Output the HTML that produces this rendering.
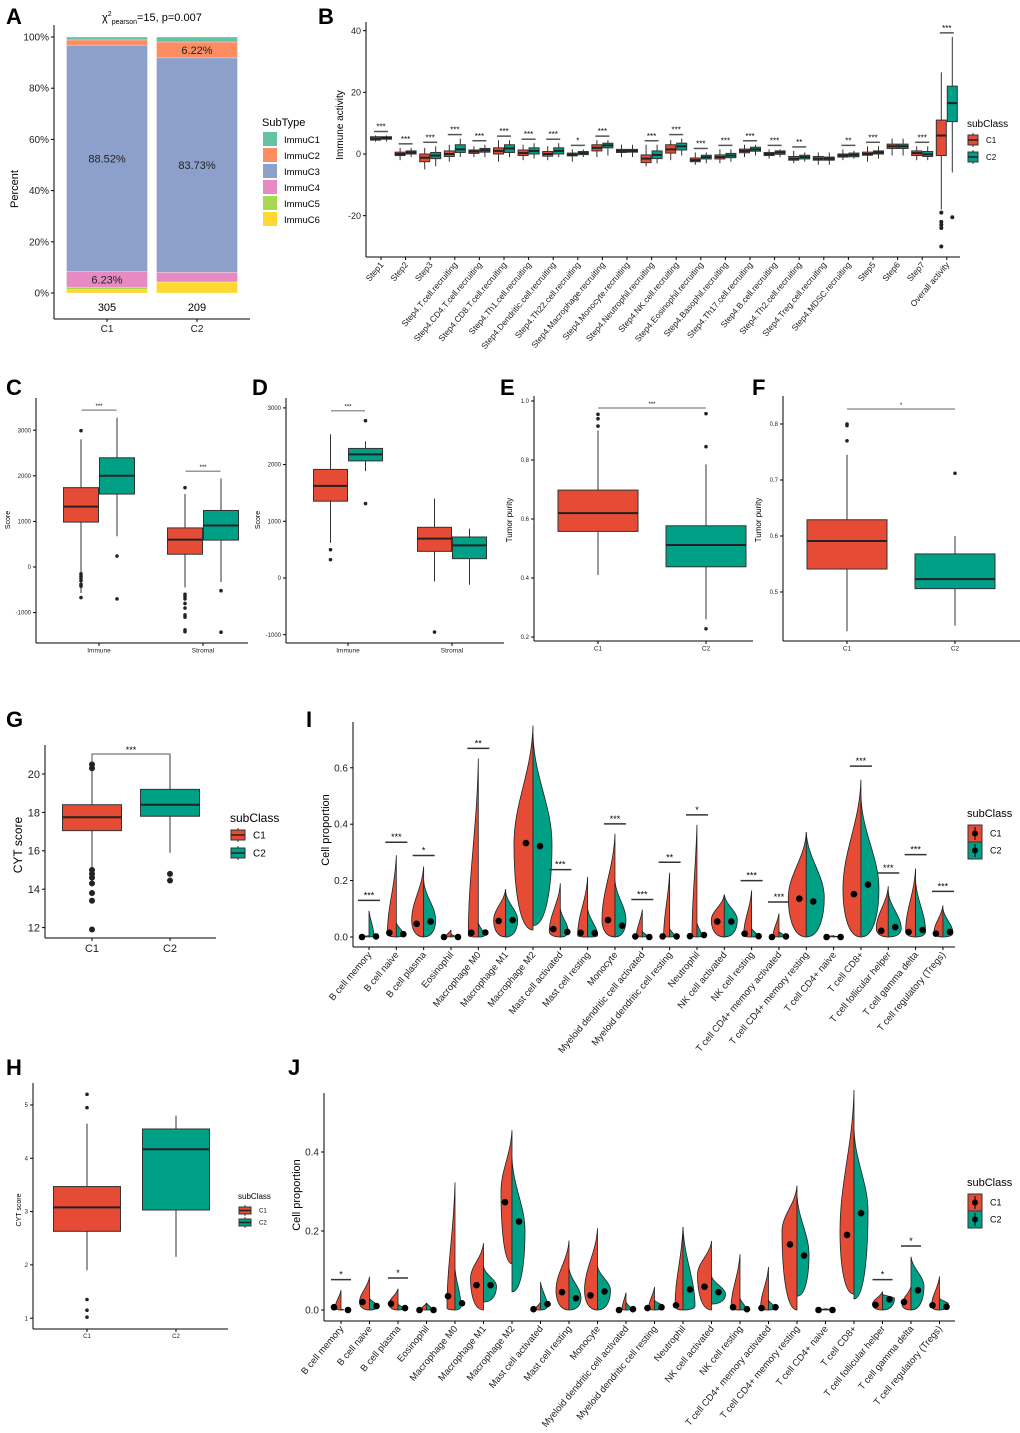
<!DOCTYPE html>
<html><head><meta charset="utf-8">
<style>
html,body{margin:0;padding:0;background:#fff;}
svg{display:block;font-family:"Liberation Sans",Arial,sans-serif;}
.pl{font-weight:bold;font-size:22px;}
</style></head>
<body>
<svg id="fig" width="1020" height="1433" viewBox="0 0 1020 1433" xmlns="http://www.w3.org/2000/svg">
<text class="pl" x="6" y="24">A</text>
<text class="pl" x="318" y="24">B</text>
<text class="pl" x="6" y="395">C</text>
<text class="pl" x="252" y="395">D</text>
<text class="pl" x="500" y="395">E</text>
<text class="pl" x="752" y="395">F</text>
<text class="pl" x="6" y="727">G</text>
<text class="pl" x="306" y="727">I</text>
<text class="pl" x="6" y="1075">H</text>
<text class="pl" x="288" y="1075">J</text>
</svg>
<script>
// ===== Panel A data =====
const aGroups=["C1","C2"];
const aTypes=["ImmuC6","ImmuC5","ImmuC4","ImmuC3","ImmuC2","ImmuC1"];
const aC1=[1.3,0.8,6.23,88.52,2.0,1.15];
const aC2=[4.3,0.0,3.8,83.73,6.22,1.95];
const aCounts=["305","209"];
const aTicks=[0,20,40,60,80,100];
// ===== Panel B data =====
const bCats=["Step1","Step2","Step3","Step4.T.cell.recruiting","Step4.CD4.T.cell.recruiting","Step4.CD8.T.cell.recruiting","Step4.Th1.cell.recruiting","Step4.Dendritic.cell.recruiting","Step4.Th22.cell.recruiting","Step4.Macrophage.recruiting","Step4.Monocyte.recruiting","Step4.Neutrophil.recruiting","Step4.NK.cell.recruiting","Step4.Eosinophil.recruiting","Step4.Basophil.recruiting","Step4.Th17.cell.recruiting","Step4.B.cell.recruiting","Step4.Th2.cell.recruiting","Step4.Treg.cell.recruiting","Step4.MDSC.recruiting","Step5","Step6","Step7","Overall activity"];
const bC1Med=[5,0,-1.2,0,0.8,1,0.3,0,-0.2,2,1,-1.5,1.5,-2,-1,1,0,-1.5,-1.5,-0.5,0,2.5,0.3,6];
const bC1Q1=[4.5,-0.5,-2.5,-0.8,0.2,0,-0.5,-0.7,-0.6,1,0.5,-2.8,0.3,-2.5,-1.6,0.4,-0.5,-2,-2,-1,-0.4,1.8,-0.5,-0.5];
const bC1Q3=[5.6,0.6,0,1,1.3,2,1.3,0.8,0.3,3,1.5,-0.3,3,-1.3,-0.3,1.6,0.5,-0.8,-0.8,0,0.6,3.2,1,11];
const bC1Lo=[4,-2,-5,-2.5,-1,-2.5,-2,-2,-2.5,-1,-1,-4,-2,-3.5,-3,-1,-1.5,-3,-3.5,-2,-2.5,-0.5,-2,-18];
const bC1Hi=[6,2,2,3,2.5,4.5,3,2.5,1.5,4.5,3,3,4.5,0.5,1.5,3,1.5,1,0.5,1.5,2.5,5,2.5,26.5];
const bC2Med=[5.2,0.5,-0.5,1.5,1.2,1.8,1,1,0.3,2.8,1,-0.3,2.5,-1,-0.5,1.5,0.5,-1,-1.5,-0.3,0.5,2.5,-0.1,16.5];
const bC2Q1=[4.8,0,-1.5,0.5,0.6,0.5,0,0,-0.2,2,0.6,-1.5,1.3,-1.6,-1.2,0.9,-0.1,-1.6,-2,-0.9,0,1.8,-0.8,10.5];
const bC2Q3=[5.6,1,0.5,3,1.8,3,2,2,0.8,3.5,1.5,1,3.5,-0.4,0.2,2.2,1,-0.4,-1,0.3,1,3.2,0.8,22];
const bC2Lo=[4,-1,-4,-1,-1,-1,-1.5,-1,-1,-0.5,-1,-3,-0.5,-3,-2.5,-0.5,-1,-2.5,-3.5,-1.5,-1.5,-0.5,-2,-6];
const bC2Hi=[6,2,2.5,5,3,4.5,3.5,3.5,1.5,4.5,3,3,5,0.5,1.5,3,1.5,0.5,0.5,1,2.5,5,2.5,38];
const bSig=["***","***","***","***","***","***","***","***","*","***","","***","***","***","***","***","***","**","","**","***","","***","***"];
const bTicks=[-20,0,20,40];
const bOut1=[-19,-22,-23,-24,-30];
const bOut2=[-20.5];
// ===== Panel C / D data =====
const cdCats=["Immune","Stromal"];
const cC1=[[-570,985,1325,1740,2800],[-450,280,600,857,1600]];
const cC2=[[675,1600,2000,2395,3275],[-330,590,910,1240,1940]];
const cOut1=[[2990,-150,-200,-250,-300,-380,-420,-670],[1740,-600,-650,-700,-800,-900,-1050,-1100,-1380,-1420]];
const cOut2=[[240,-700],[-520,-1430]];
const cTicks=[-1000,0,1000,2000,3000];
const dC1=[[620,1355,1625,1915,2535],[-60,470,694,894,1400]];
const dC2=[[1885,2065,2180,2285,2410],[-118,341,576,723,870]];
const dOut1=[[500,324],[-953]];
const dOut2=[[2775,1312],[]];
const dTicks=[-1000,0,1000,2000,3000];
// ===== Panel E / F data =====
const efCats=["C1","C2"];
const eStats=[[0.41,0.558,0.620,0.698,0.90],[0.26,0.438,0.512,0.577,0.785]];
const eOut=[[0.955,0.94,0.915],[0.957,0.845,0.228]];
const eTicks=[0.2,0.4,0.6,0.8,1.0];
const fStats=[[0.43,0.541,0.591,0.629,0.745],[0.44,0.506,0.523,0.568,0.600]];
const fOut=[[0.80,0.797,0.77],[0.712]];
const fTicks=[0.5,0.6,0.7,0.8];
// ===== Panel G / H data =====
const gStats=[[15.1,17.05,17.75,18.4,20.4],[15.9,17.8,18.4,19.2,21.0]];
const gOut=[[20.5,20.3,15,14.8,14.6,14.3,13.8,13.4,11.9],[14.8,14.45]];
const gTicks=[12,14,16,18,20];
const hStats=[[1.9,2.63,3.08,3.47,4.65],[2.15,3.03,4.17,4.55,4.8]];
const hOut=[[5.2,4.95,1.35,1.15,1.02],[]];
const hTicks=[1,2,3,4,5];
// ===== Panel I / J data =====
const vCats=["B cell memory","B cell naive","B cell plasma","Eosinophil","Macrophage M0","Macrophage M1","Macrophage M2","Mast cell activated","Mast cell resting","Monocyte","Myeloid dendritic cell activated","Myeloid dendritic cell resting","Neutrophil","NK cell activated","NK cell resting","T cell CD4+ memory activated","T cell CD4+ memory resting","T cell CD4+ naive","T cell CD8+","T cell follicular helper","T cell gamma delta","T cell regulatory (Tregs)"];
const iTop1=[0.005,0.29,0.25,0.025,0.633,0.17,0.75,0.19,0.213,0.366,0.097,0.228,0.398,0.15,0.165,0.083,0.372,0.005,0.558,0.18,0.243,0.112];
const iTop2=[0.093,0.05,0.2,0.01,0.05,0.16,0.72,0.1,0.1,0.2,0.02,0.03,0.05,0.15,0.03,0.02,0.372,0.003,0.5,0.16,0.2,0.1];
const iBot1=[0,0,0,0,0,0,0.025,0,0,0,0,0,0,0,0,0,0,0,0,0,0,0];
const iBot2=[0,0,0,0,0,0,0.04,0,0,0,0,0,0,0,0,0,0,0,0,0,0,0];
const iMode=[0.002,0.01,0.06,0.002,0.005,0.06,0.33,0.02,0.005,0.06,0.002,0.002,0.002,0.06,0.005,0.002,0.14,0.002,0.17,0.03,0.02,0.015];
const iWid1=[6,9,12,5,10,12,19,11,10,13,6,6,5,13,8,6,18,6,18,12,10,9];
const iWid2=[5,7,12,4,6,12,19,8,10,11,5,5,5,13,6,6,18,5,18,13,10,10];
const iMean1=[0,0.015,0.047,0,0.015,0.057,0.333,0.028,0.015,0.06,0.002,0.002,0.003,0.055,0.012,0,0.136,0,0.152,0.022,0.018,0.012];
const iMean2=[0.002,0.01,0.055,0,0.016,0.06,0.322,0.018,0.014,0.04,0,0.002,0.007,0.055,0.003,0.002,0.126,0,0.186,0.035,0.025,0.018];
const iSig=[["***",0.13],["***",0.336],["*",0.289],null,["**",0.669],null,null,["***",0.239],null,["***",0.401],["***",0.133],["**",0.265],["*",0.433],null,["***",0.2],["***",0.124],null,null,["***",0.606],["***",0.227],["***",0.292],["***",0.162]];
const iTicks=[0,0.2,0.4,0.6];
const jTop1=[0.05,0.084,0.054,0.018,0.323,0.169,0.455,0.02,0.176,0.207,0.044,0.058,0.21,0.175,0.141,0.109,0.315,0.003,0.557,0.047,0.06,0.085];
const jTop2=[0.002,0.03,0.015,0.018,0.105,0.11,0.385,0.071,0.107,0.112,0.02,0.025,0.21,0.087,0.03,0.025,0.29,0.003,0.457,0.04,0.135,0.03];
const jBot1=[0,0,0,0,0,0,0.117,0,0,0,0,0,0,0,0,0,0,0,0.04,0,0,0];
const jBot2=[0,0,0,0,0,0.02,0.046,0,0,0,0,0,0,0.015,0,0,0.035,0,0.028,0,0,0];
const jMode1=[0.005,0.02,0.015,0.002,0.005,0.08,0.3,0.002,0.05,0.05,0.002,0.004,0.01,0.09,0.005,0.004,0.2,0.001,0.2,0.015,0.015,0.01];
const jMode2=[0.001,0.01,0.004,0.003,0.01,0.06,0.2,0.01,0.03,0.05,0.002,0.01,0.01,0.04,0.002,0.005,0.14,0.001,0.25,0.03,0.06,0.015];
const jWid1=[6,10,9,5,8,13,11,5,13,13,4,6,8,14,9,8,15,5,14,10,9,8];
const jWid2=[3,8,6,5,6,13,13,7,12,13,5,8,12,14,6,7,12,5,14,12,13,9];
const jMean1=[0.007,0.02,0.016,0,0.035,0.063,0.273,0.002,0.045,0.037,0,0.005,0.012,0.059,0.007,0.005,0.166,0,0.19,0.013,0.02,0.012];
const jMean2=[0,0.01,0.005,0,0.017,0.063,0.224,0.015,0.03,0.047,0.002,0.007,0.052,0.045,0.002,0.007,0.138,0,0.245,0.027,0.05,0.008];
const jSig=[["*",0.077],null,["*",0.081],null,null,null,null,null,null,null,null,null,null,null,null,null,null,null,null,["*",0.077],["*",0.162],null];
const jTicks=[0,0.2,0.4];

const RED="#E64B35",TEAL="#00A087",AX="#000";
const svg=document.getElementById('fig');
const NS="http://www.w3.org/2000/svg";
function mk(tag,attrs,parent){const e=document.createElementNS(NS,tag);for(const k in attrs)e.setAttribute(k,attrs[k]);(parent||svg).appendChild(e);return e;}
function txt(s,attrs,parent){const e=mk('text',attrs,parent);e.textContent=s;return e;}
function group(name){const g=mk('g',{});return g;}

function axes(g,x0,x1,yTop,yBot,ticks,ys,fs,fmt){
  const a=mk('line',{x1:x0,y1:yTop,x2:x0,y2:yBot,stroke:AX,'stroke-width':1},g);
  
  const b=mk('line',{x1:x0,y1:yBot,x2:x1,y2:yBot,stroke:AX,'stroke-width':1},g);
  
  ticks.forEach(t=>{const y=ys(t);
    mk('line',{x1:x0-3,y1:y,x2:x0,y2:y,stroke:AX},g);
    const l=txt(fmt?fmt(t):String(t),{x:x0-5,y:y+fs*0.35,'font-size':fs,'text-anchor':'end',fill:'#222'},g);
    });
}
function xlab(g,x,y,s,fs){mk('line',{x1:x,y1:y,x2:x,y2:y+3,stroke:AX},g);
  const l=txt(s,{x:x,y:y+3+fs,'font-size':fs,'text-anchor':'middle',fill:'#222'},g);
  }
function rlab(g,x,y,s,fs,ang){mk('line',{x1:x,y1:y,x2:x,y2:y+3,stroke:AX},g);
  const l=txt(s,{x:x+3,y:y+8,'font-size':fs,'text-anchor':'end',fill:'#222',transform:`rotate(${ang} ${x+3} ${y+8})`},g);
  }
function ytitle(g,x,y,s,fs){const l=txt(s,{x:x,y:y,'font-size':fs,'text-anchor':'middle',transform:`rotate(-90 ${x} ${y})`},g);
  }
function box(g,cx,w,ys,st,fill,outs,r,name){
  const bg=mk('g',{},g);
  const [lo,q1,md,q3,hi]=st;
  mk('line',{x1:cx,y1:ys(hi),x2:cx,y2:ys(q3),stroke:'#333','stroke-width':1},bg);
  mk('line',{x1:cx,y1:ys(q1),x2:cx,y2:ys(lo),stroke:'#333','stroke-width':1},bg);
  mk('rect',{x:cx-w/2,y:ys(q3),width:w,height:Math.max(1,ys(q1)-ys(q3)),fill:fill,stroke:'#333','stroke-width':1},bg);
  mk('line',{x1:cx-w/2,y1:ys(md),x2:cx+w/2,y2:ys(md),stroke:'#222','stroke-width':2},bg);
  (outs||[]).forEach(o=>mk('circle',{cx:cx,cy:ys(o),r:r,fill:'#222'},bg));
}
function sig(g,x1,x2,y,s,fs,col){
  const sg=mk('g',{},g);
  mk('line',{x1:x1,y1:y,x2:x2,y2:y,stroke:col||'#888','stroke-width':1.5},sg);
  txt(s,{x:(x1+x2)/2,y:y-2,'font-size':fs,'text-anchor':'middle'},sg);
}
function legend(g,x,y,fs,kw,kh,gap,kind){
  const lg=mk('g',{},g);
  txt('subClass',{x:x,y:y,'font-size':fs+2},lg);
  [['C1',RED],['C2',TEAL]].forEach((c,i)=>{const yy=y+8+i*gap;
    const e=mk('g',{},lg);
    mk('rect',{x:x+1,y:yy,width:kw,height:kh,fill:c[1],stroke:'#333'},e);
    if(kind==='violin'){mk('line',{x1:x+1+kw/2,y1:yy+2,x2:x+1+kw/2,y2:yy+kh-2,stroke:'#000'},e);mk('circle',{cx:x+1+kw/2,cy:yy+kh/2,r:3,fill:'#000'},e);}
    else{mk('line',{x1:x+1,y1:yy+kh/2,x2:x+1+kw,y2:yy+kh/2,stroke:'#222','stroke-width':1.5},e);
      mk('line',{x1:x+1+kw/2,y1:yy-2,x2:x+1+kw/2,y2:yy,stroke:'#333'},e);mk('line',{x1:x+1+kw/2,y1:yy+kh,x2:x+1+kw/2,y2:yy+kh+2,stroke:'#333'},e);}
    txt(c[0],{x:x+kw+9,y:yy+kh/2+fs*0.35,'font-size':fs},e);});
}

// ---------- Panel A ----------
(function(){
  const g=group('panel-a-stacked-bar');
  const ys=v=>293-v*2.56;
  const cols={ImmuC1:"#66C2A5",ImmuC2:"#FC8D62",ImmuC3:"#8DA0CB",ImmuC4:"#E78AC3",ImmuC5:"#A6D854",ImmuC6:"#FFD92F"};
  const xs=[107,197];
  [aC1,aC2].forEach((vals,gi)=>{let cum=0;
    vals.forEach((v,k)=>{const r=mk('rect',{x:xs[gi]-40.5,y:ys(cum+v),width:81,height:v*2.56,fill:cols[aTypes[k]],stroke:'#fff','stroke-width':0.3},g);
      
      
      if((aTypes[k]==="ImmuC3")||(aTypes[k]==="ImmuC4"&&gi===0)||(aTypes[k]==="ImmuC2"&&gi===1)){
        const t=txt(v.toFixed(2)+'%',{x:xs[gi],y:ys(cum+v/2)+4,'font-size':11,'text-anchor':'middle',fill:'#222'},g);
        }
      cum+=v;});
    const c=txt(aCounts[gi],{x:xs[gi],y:311,'font-size':11,'text-anchor':'middle'},g);
    
  });
  axes(g,54,250,25,319,aTicks,ys,10,t=>t+'%');
  xs.forEach((x,i)=>xlab(g,x,319,aGroups[i],10));
  ytitle(g,18,189,'Percent',11);
  const tt=mk('text',{x:102,y:21,'font-size':11},g);
  tt.innerHTML='χ<tspan dy="-5" font-size="7">2</tspan><tspan dy="8" font-size="7">pearson</tspan><tspan dy="-3">=15, p=0.007</tspan>';
  const lg=mk('g',{},g);
  txt('SubType',{x:262,y:126,'font-size':11},lg);
  ["ImmuC1","ImmuC2","ImmuC3","ImmuC4","ImmuC5","ImmuC6"].forEach((n,i)=>{const e=mk('g',{},lg);
    
    mk('rect',{x:263,y:132+i*16,width:14,height:14,fill:cols[n]},e);
    txt(n,{x:284,y:143+i*16,'font-size':9.5},e);});
})();

// ---------- Panel B ----------
(function(){
  const g=group('panel-b-immune-activity-boxplot');
  const ys=v=>154-v*3.083;const xs=i=>381+i*24.6;
  bCats.forEach((c,i)=>{
    const o1=i===23?bOut1:[],o2=i===23?bOut2:[];
    box(g,xs(i)-5.5,10,ys,[bC1Lo[i],bC1Q1[i],bC1Med[i],bC1Q3[i],bC1Hi[i]],RED,o1,2,'box-c1-'+i);
    box(g,xs(i)+5.5,10,ys,[bC2Lo[i],bC2Q1[i],bC2Med[i],bC2Q3[i],bC2Hi[i]],TEAL,o2,2,'box-c2-'+i);
    if(bSig[i]){const top=Math.max(bC1Hi[i],bC2Hi[i]);sig(g,xs(i)-7,xs(i)+7,ys(top)-4,bSig[i],8,'#555');}
    rlab(g,xs(i),257,c,8.5,-50);
  });
  axes(g,366,960,22,257,bTicks,ys,9);
  ytitle(g,343,125,'Immune activity',10);
  legend(g,967,127,8,10,10,17,'box');
})();

// ---------- Panels C & D ----------
function scorePanel(name,ax,right,ys,cats,xs,w,s1,s2,o1,o2,ticks,sigs){
  const g=group(name);
  cats.forEach((c,i)=>{box(g,xs[i]-w/2-0.5,w,ys,s1[i],RED,o1[i],1.8,'box-'+c.toLowerCase()+'-c1');
    box(g,xs[i]+w/2+0.5,w,ys,s2[i],TEAL,o2[i],1.8,'box-'+c.toLowerCase()+'-c2');
    if(sigs[i])sig(g,xs[i]-w/2,xs[i]+w/2,ys(sigs[i][1]),sigs[i][0],6,'#999');
    xlab(g,xs[i],643,c,6.5);});
  axes(g,ax,right,398,643,ticks,ys,6);
  ytitle(g,ax-26,520,'Score',7);
}
scorePanel('panel-c-score-boxplot',36,248,v=>567-v*0.0456,cdCats,[99,203],35,cC1,cC2,cOut1,cOut2,cTicks,[["***",3440],["***",2100]]);
scorePanel('panel-d-score-boxplot',286,504,v=>578-v*0.0567,cdCats,[348,452],34,dC1,dC2,dOut1,dOut2,dTicks,[["***",2950],null]);

// ---------- Panels E & F ----------
function purityPanel(name,ax,right,ys,xs,stats,outs,ticks,sy,sstr,fmt){
  const g=group(name);
  efCats.forEach((c,i)=>{box(g,xs[i],80,ys,stats[i],i?TEAL:RED,outs[i],1.8,'box-'+c.toLowerCase());xlab(g,xs[i],641,c,6.5);});
  sig(g,xs[0],xs[1],sy,sstr,6,'#999');
  axes(g,ax,right,396,641,ticks,ys,6,fmt);
  ytitle(g,ax-22,520,'Tumor purity',8);
}
purityPanel('panel-e-tumor-purity',534,753,v=>401+(1-v)*295,[598,706],eStats,eOut,eTicks,408,'***',t=>t.toFixed(1));
purityPanel('panel-f-tumor-purity',783,1020,v=>424+(0.8-v)*560,[847,955],fStats,fOut,fTicks,409,'*',t=>t.toFixed(1));

// ---------- Panels G & H ----------
(function(){
  const g=group('panel-g-cyt-score');const ys=v=>774+(20-v)*19.2;const xs=[92,170];
  efCats.forEach((c,i)=>{box(g,xs[i],59,ys,gStats[i],i?TEAL:RED,gOut[i],3,'box-'+c.toLowerCase());xlab(g,xs[i],938,c,11);});
  mk('path',{d:`M${xs[0]} ${ys(20.6)} V754 H${xs[1]} V${ys(21)}`,fill:'none',stroke:'#555'},g);
  txt('***',{x:131,y:753,'font-size':9,'text-anchor':'middle'},g);
  axes(g,45,216,745,938,gTicks,ys,11);
  ytitle(g,22,845,'CYT score',12);
  legend(g,230,822,10,14,10,18,'box');
})();
(function(){
  const g=group('panel-h-cyt-score');const ys=v=>1105+(5-v)*53.3;const xs=[87,176];
  efCats.forEach((c,i)=>{box(g,xs[i],67,ys,hStats[i],i?TEAL:RED,hOut[i],1.8,'box-'+c.toLowerCase());xlab(g,xs[i],1329,c,6);});
  axes(g,33,228,1083,1329,hTicks,ys,6);
  ytitle(g,21,1210,'CYT score',7);
  legend(g,238,1199,6,12,7,12,'box');
})();

// ---------- Panels I & J (split violins) ----------
function halfViolin(g,cx,side,ys,lo,hi,mode,w,fill){
  const yl=ys(lo),yh=ys(hi),ym=ys(Math.min(Math.max(mode,lo),hi));
  const xm=cx+side*w;
  const d=`M${cx} ${yl} C${cx+side*w*0.8} ${yl} ${xm} ${ym+(yl-ym)*0.4} ${xm} ${ym} C${xm} ${ym-(ym-yh)*0.35} ${cx+side*1.2} ${yh+(ym-yh)*0.4} ${cx} ${yh} Z`;
  mk('path',{d:d,fill:fill,stroke:'#222','stroke-width':0.8},g);
}
function violinPanel(name,ax,right,yTop,yBot,ys,x0,dx,top1,top2,bot1,bot2,mode1,mode2,w1,w2,m1,m2,sigs,ticks,fs,sigW,ytl){
  const g=group(name);
  vCats.forEach((c,i)=>{const x=x0+i*dx;
    const vg=mk('g',{},g);
    halfViolin(vg,x,-1,ys,bot1[i],top1[i],mode1[i],w1[i],RED);
    halfViolin(vg,x,1,ys,bot2[i],top2[i],mode2[i],w2[i],TEAL);
    mk('circle',{cx:x-7,cy:ys(m1[i]),r:3.3,fill:'#000'},vg);
    mk('circle',{cx:x+7,cy:ys(m2[i]),r:3.3,fill:'#000'},vg);
    if(sigs[i])sig(g,x-sigW,x+sigW,ys(sigs[i][1]),sigs[i][0],9,'#333');
    rlab(g,x,yBot,c,fs,-50);
  });
  axes(g,ax,right,yTop,yBot,ticks,ys,10,t=>t.toFixed(1));
  ytitle(g,ax-24,ytl,'Cell proportion',11);
  return g;
}
const gi=violinPanel('panel-i-cell-proportion-violin',353,955,722,947,v=>937-v*282,369,27.33,iTop1,iTop2,iBot1,iBot2,iMode,iMode,iWid1,iWid2,iMean1,iMean2,iSig,iTicks,9.5,11,830);
legend(gi,967,817,9,14,17,17,'violin');
const gj=violinPanel('panel-j-cell-proportion-violin',324,955,1093,1321,v=>1310-v*395,341,28.5,jTop1,jTop2,jBot1,jBot2,jMode1,jMode2,jWid1,jWid2,jMean1,jMean2,jSig,jTicks,9.5,10,1195);
legend(gj,967,1186,9,14,17,17,'violin');
</script>
</body></html>
